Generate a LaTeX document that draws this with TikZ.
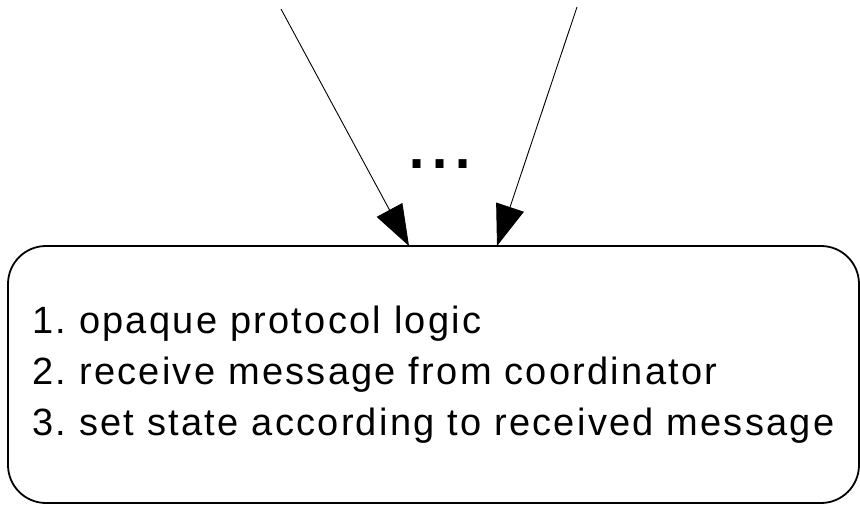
\documentclass[tikz,border=0pt]{standalone}
\usepackage{fontspec}
\setmainfont{Liberation Sans}
\newfontfamily\boxfont[LetterSpace=6]{Liberation Sans}
\usetikzlibrary{arrows.meta}
\tikzset{
  procbox/.style={draw, line width=1.8pt, rounded corners=38pt,
    minimum width=851pt, minimum height=257pt, inner sep=0pt,
    align=left, font=\boxfont\fontsize{38}{51}\selectfont\frenchspacing},
  msgarrow/.style={line width=0.9pt, -{Triangle[length=41pt, width=29pt]}},
  dotstext/.style={inner sep=0pt, anchor=base, font=\fontsize{83}{90}\selectfont}
}
\begin{document}
\begin{tikzpicture}[x=1pt, y=-1pt]
  \useasboundingbox (0,0) rectangle (860,504);
  % process box
  \node[procbox] (proc) at (433.5,374.5)
    {1. opaque protocol logic\\
     2. receive message from coordinator\\
     3. set state according to received message};
  % incoming messages
  \coordinate (src1) at (281,9);
  \coordinate (src2) at (577,7);
  \coordinate (in1) at (409,246);
  \coordinate (in2) at (497,246);
  \draw[msgarrow] (src1) -- (in1);
  \draw[msgarrow] (src2) -- (in2);
  \node[dotstext] (more) at (440,168) {...};
\end{tikzpicture}
\end{document}
